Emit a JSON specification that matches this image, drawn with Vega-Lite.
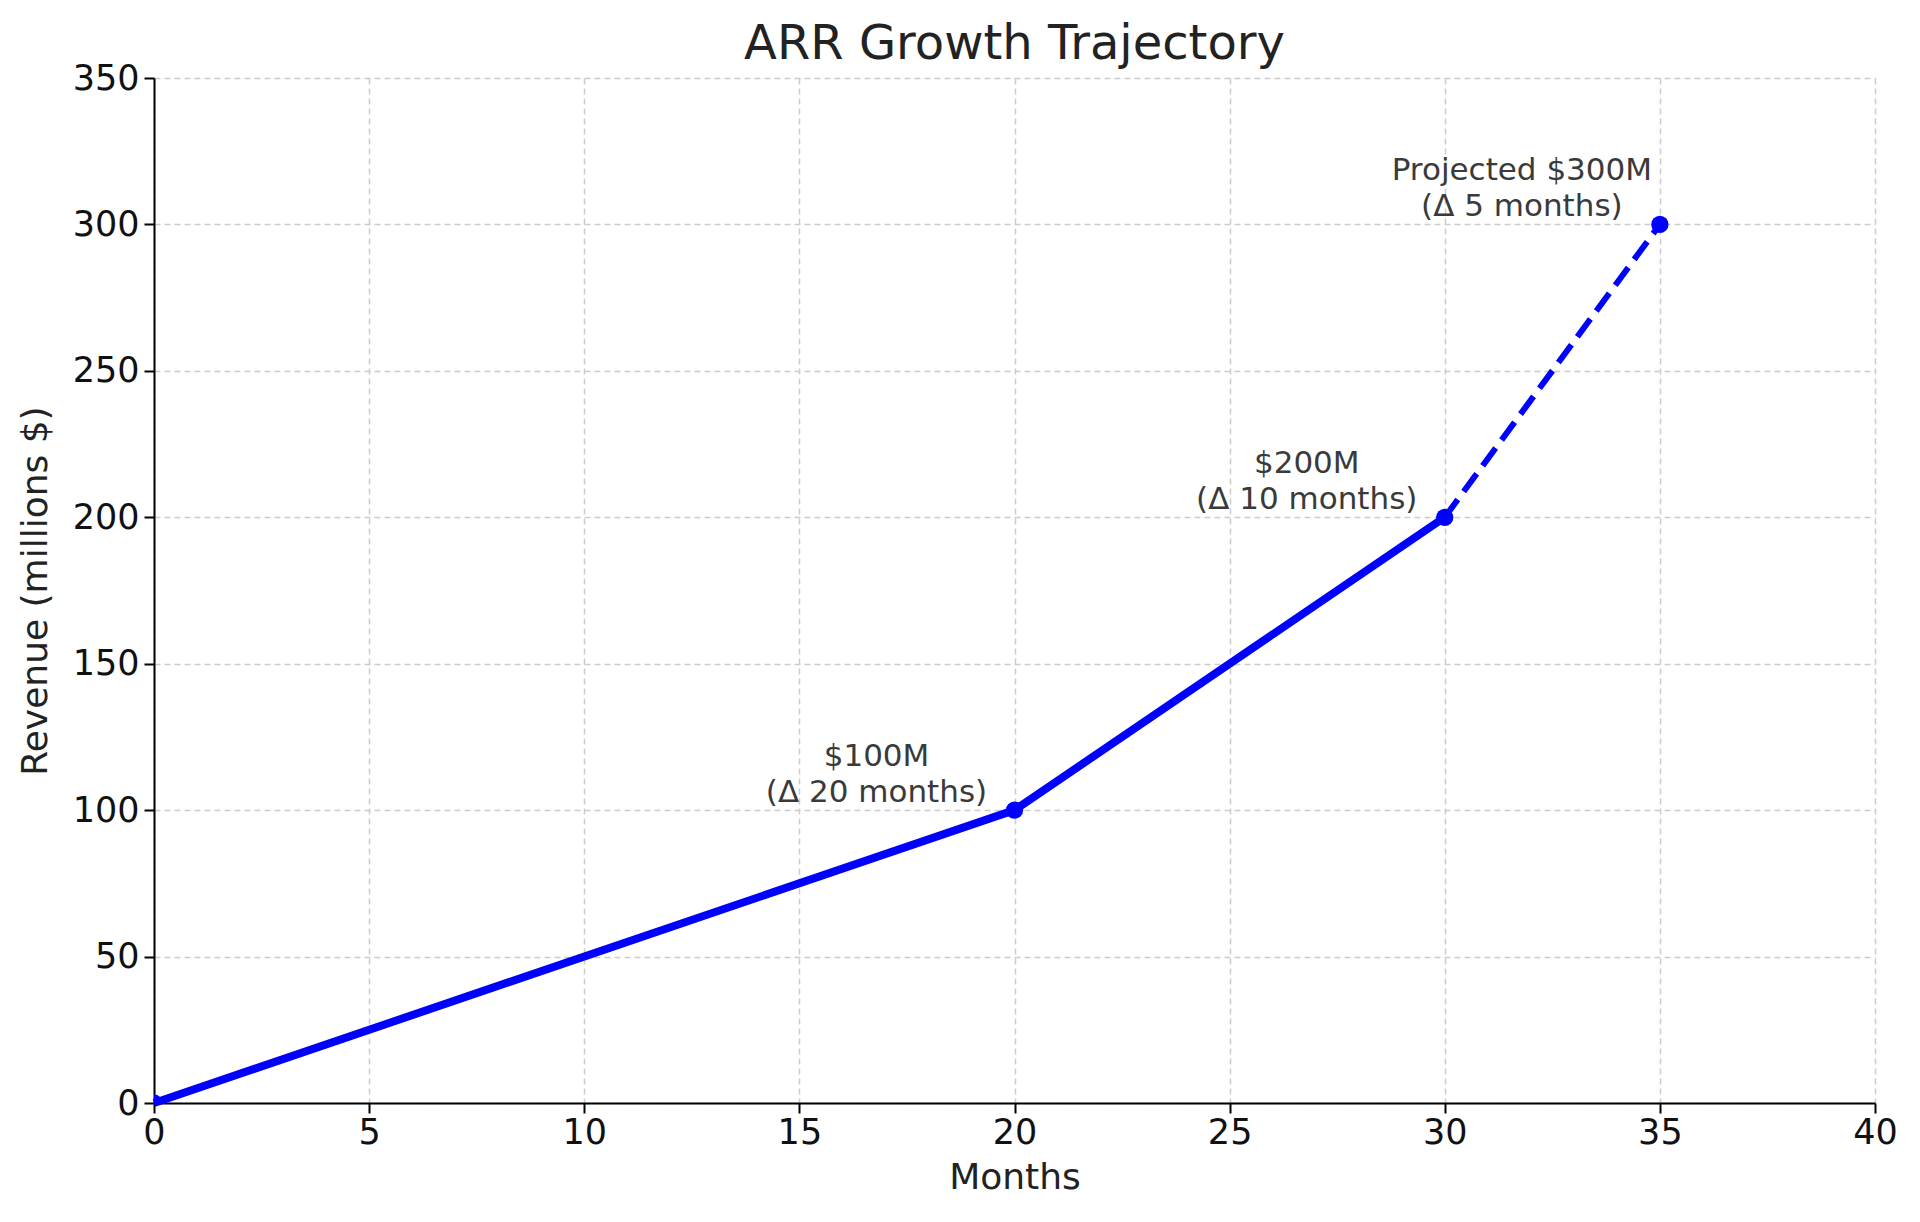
{
  "$schema": "https://vega.github.io/schema/vega-lite/v6.json",
  "autosize": {"type": "none"},
  "width": 1721,
  "height": 1025,
  "padding": {"left": 154, "top": 78, "right": 45, "bottom": 119},
  "background": "white",
  "title": {
    "text": "ARR Growth Trajectory",
    "font": "DejaVu Sans",
    "fontSize": 48,
    "fontWeight": "normal",
    "color": "#222222",
    "anchor": "middle",
    "offset": -8
  },
  "datasets": {
    "trajectory": [
      {"month": 0, "revenue": 0, "phase": "Actual"},
      {"month": 20, "revenue": 100, "phase": "Actual"},
      {"month": 30, "revenue": 200, "phase": "Actual"},
      {"month": 30, "revenue": 200, "phase": "Projected"},
      {"month": 35, "revenue": 300, "phase": "Projected"}
    ],
    "milestones": [
      {"month": 0, "revenue": 0, "label": ""},
      {"month": 20, "revenue": 100, "label": "$100M\n(Δ 20 months)"},
      {"month": 30, "revenue": 200, "label": "$200M\n(Δ 10 months)"},
      {"month": 35, "revenue": 300, "label": "Projected $300M\n(Δ 5 months)"}
    ]
  },
  "encoding": {
    "x": {
      "field": "month",
      "type": "quantitative",
      "title": "Months",
      "scale": {"domain": [0, 40], "nice": false, "zero": false},
      "axis": {"values": [0, 5, 10, 15, 20, 25, 30, 35, 40]}
    },
    "y": {
      "field": "revenue",
      "type": "quantitative",
      "title": "Revenue (millions $)",
      "scale": {"domain": [0, 350], "nice": false},
      "axis": {"values": [0, 50, 100, 150, 200, 250, 300, 350]}
    }
  },
  "layer": [
    {
      "data": {"name": "trajectory"},
      "transform": [{"filter": "datum.phase === 'Actual'"}],
      "mark": {"type": "line", "color": "#0000ff", "strokeWidth": 8, "strokeCap": "butt"}
    },
    {
      "data": {"name": "trajectory"},
      "transform": [{"filter": "datum.phase === 'Projected'"}],
      "mark": {"type": "line", "color": "#0000ff", "strokeWidth": 6, "strokeDash": [22, 10]}
    },
    {
      "data": {"name": "milestones"},
      "mark": {"type": "point", "filled": true, "color": "#0000ff", "size": 300, "opacity": 1, "clip": true}
    },
    {
      "data": {"name": "milestones"},
      "mark": {
        "type": "text",
        "font": "DejaVu Sans",
        "fontSize": 31,
        "color": "#3a3a3a",
        "align": "center",
        "baseline": "bottom",
        "lineBreak": "\n",
        "lineHeight": 36,
        "dx": -138,
        "dy": -37
      },
      "encoding": {"text": {"field": "label"}}
    }
  ],
  "config": {
    "view": {"stroke": null},
    "axis": {
      "labelFont": "DejaVu Sans",
      "labelFontSize": 35,
      "labelColor": "#111111",
      "titleFont": "DejaVu Sans",
      "titleFontSize": 36,
      "titleFontWeight": "normal",
      "titleColor": "#222222",
      "domainColor": "#000000",
      "domainWidth": 2,
      "tickColor": "#000000",
      "tickWidth": 2,
      "tickSize": 10,
      "grid": true,
      "gridColor": "#cccccc",
      "gridWidth": 1.5,
      "gridDash": [6, 4],
      "labelFlush": false,
      "labelOverlap": false
    },
    "axisX": {"labelPadding": 2, "titlePadding": 10},
    "axisY": {"labelPadding": 5, "titlePadding": 18}
  }
}
